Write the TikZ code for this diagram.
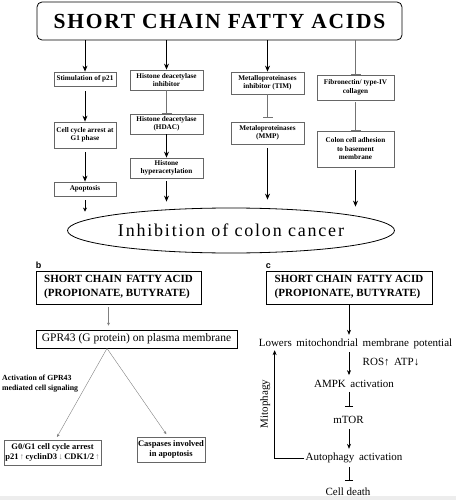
\documentclass[tikz,border=0pt]{standalone}
\usepackage{fontspec}
\setmainfont{Liberation Serif}
\setsansfont{Liberation Sans}
\usetikzlibrary{arrows.meta,shapes.geometric,positioning,calc}

\begin{document}
\begin{tikzpicture}[x=1pt,y=-1pt,
		cbox/.style={draw=black!60,thick,rectangle,inner sep=1pt,align=center,font=\fontsize{7.2}{8.5}\selectfont\bfseries},
		scabox/.style={draw,thick,rectangle,inner sep=2pt,align=left,minimum height=33pt,font=\fontsize{11}{14}\selectfont\bfseries},
		arr/.style={-{Stealth[length=6pt,width=5pt]},thick},
		inh/.style={-{Bar[width=10pt]},draw=black!55,thick},
		garr/.style={-{Stealth[length=3pt,width=3pt]},draw=black!50},
		carr/.style={-{Stealth[length=5pt,width=4pt]},semithick},
		cinh/.style={-{Bar[width=8pt]},semithick},
		ctext/.style={inner sep=1pt,font=\fontsize{11}{12}\selectfont}]
	\useasboundingbox (0,0) rectangle (456,500);
	\fill[black!7] (0,496) rectangle (456,500);
	
	% Panel a
	\node[draw,thick,rounded corners=5pt,minimum width=365pt,minimum height=38pt,
	font=\fontsize{21.5}{24}\selectfont\bfseries\addfontfeatures{LetterSpace=8}] (title) at (219.5,21) {SHORT CHAIN FATTY ACIDS};
	
	\node[cbox,minimum width=62pt,minimum height=14pt] (stim) at (85,79) {Stimulation of p21};
	\node[cbox,minimum width=62pt,minimum height=26pt] (arrest) at (85,135) {Cell cycle arrest at\\G1 phase};
	\node[cbox,minimum width=62pt,minimum height=14pt] (apop) at (85,189) {Apoptosis};
	
	\node[cbox,minimum width=73pt,minimum height=20pt] (hdi) at (166.5,80) {Histone deacetylase\\inhibitor};
	\node[cbox,minimum width=73pt,minimum height=20pt] (hdac) at (166.5,124) {Histone deacetylase\\(HDAC)};
	\node[cbox,minimum width=73pt,minimum height=20pt] (hyper) at (166.5,168) {Histone\\hyperacetylation};
	
	\node[cbox,minimum width=73pt,minimum height=22pt] (timi) at (267.5,83) {Metalloproteinases\\inhibitor (TIM)};
	\node[cbox,minimum width=73pt,minimum height=22pt] (mmp) at (267.5,133) {Metaloproteinases\\(MMP)};
	
	\node[cbox,minimum width=77pt,minimum height=25pt] (fibro) at (355.5,87.5) {Fibronectin/ type-IV\\collagen};
	\node[cbox,minimum width=77pt,minimum height=36pt] (adhes) at (355.5,149) {Colon cell adhesion\\to basement\\membrane};
	
	\node[draw,thick,ellipse,minimum width=327pt,minimum height=45pt,inner sep=0pt,
	font=\fontsize{18}{20}\selectfont\addfontfeatures{LetterSpace=10}] (cancer) at (231,230.5) {Inhibition of colon cancer};
	
	\draw[arr] (title.south -| stim) -- (stim);
	\draw[arr] (title.south -| hdi) -- (hdi);
	\draw[arr] (title.south -| timi) -- (timi);
	\draw[inh] (title.south -| fibro) -- (fibro);
	
	\draw[arr,shorten <=5pt] (stim) -- (arrest);
	\draw[arr,shorten <=4pt] (arrest) -- (apop);
	\draw[-{Stealth[length=4pt,width=4pt]},semithick,shorten <=4pt,shorten >=-4pt] (apop) -- (apop |- cancer.north);
	
	\draw[inh] (hdi) -- (hdac);
	\draw[arr] (hdac) -- (hyper);
	\draw[arr,shorten <=3pt,shorten >=6pt] (hyper) -- (hyper |- cancer.north);
	
	\draw[inh,shorten >=4pt] (timi) -- (mmp);
	\draw[arr,shorten <=4pt,shorten >=8pt] (mmp) -- (mmp |- cancer.north);
	
	\draw[inh,shorten <=2pt] (fibro) -- (adhes);
	\draw[arr,semithick,shorten <=3pt,shorten >=1pt] (adhes) -- (adhes |- cancer.north);
	
	% Panel b
	\node[scabox,minimum width=165pt] (bsca) at (118.5,287.5) {SHORT CHAIN\, FATTY ACID\\(PROPIONATE, BUTYRATE)};
	\node[font=\sffamily\bfseries\fontsize{9}{10}\selectfont,anchor=south west,inner sep=0pt] (blab) at ([yshift=1.5pt]bsca.north west) {b};
	\node[draw,thick,rectangle,minimum width=201pt,minimum height=18pt,inner sep=1pt,
	font=\fontsize{11.5}{13}\selectfont] (gpr) at (136.5,339) {GPR43 (G protein) on plasma membrane};
	\node[cbox,font=\fontsize{8.5}{10}\selectfont\bfseries,minimum width=97pt,minimum height=25pt] (gzero) at (52.5,452.5) {G0/G1 cell cycle arrest\\p21\,{\color{black!50}↑}\,cyclinD3\,{\color{black!50}↓}\,CDK1/2\,{\color{black!50}↑}};
	\node[cbox,font=\fontsize{8.5}{10}\selectfont\bfseries,minimum width=68pt,minimum height=25pt] (casp) at (171,449.5) {Caspases involved\\in apoptosis};
	\node[anchor=north west,align=left,inner sep=1pt,font=\fontsize{7.8}{10}\selectfont\bfseries] (actlab) at (1,374) {Activation of GPR43\\mediated cell signaling};
	
	\draw[garr,shorten <=3pt,shorten >=4pt] ([xshift=-10pt]bsca.south) -- ([xshift=-10pt]bsca.south |- gpr.north);
	\draw[garr,shorten >=3pt] ([xshift=-29.5pt]gpr.south) -- ([xshift=3pt]gzero.north);
	\draw[garr,shorten >=3pt] ([xshift=-29.5pt]gpr.south) -- ([xshift=-3pt]casp.north);
	
	% Panel c
	\node[scabox,minimum width=166pt] (csca) at (349,287.5) {SHORT CHAIN\, FATTY ACID\\(PROPIONATE, BUTYRATE)};
	\node[font=\sffamily\bfseries\fontsize{9}{10}\selectfont,anchor=south west,inner sep=0pt] (clab) at ([yshift=1.5pt]csca.north west) {c};
	
	\node[ctext] (lowers) at (355.5,344) {Lowers\, mitochondrial\, membrane\, potential};
	\node[ctext] (ros) at (391,362) {ROS↑\, ATP↓};
	\node[ctext] (ampk) at (354,384) {AMPK\, activation};
	\node[ctext] (mtor) at (348.5,420) {mTOR};
	\node[ctext] (autoph) at (354,458) {Autophagy\, activation};
	\node[ctext] (death) at (348,492) {Cell death};
	
	\draw[carr,shorten >=3pt] (csca.south) -- (csca.south |- lowers.north);
	\draw[carr,shorten <=2pt,shorten >=4pt] (lowers.south -| csca.south) -- (ampk.north -| csca.south);
	\draw[cinh,shorten <=3pt,shorten >=9pt] (ampk.south -| csca.south) -- (mtor.north -| csca.south);
	\draw[carr,shorten <=4pt,shorten >=3pt] (mtor.south -| csca.south) -- (autoph.north -| csca.south);
	\draw[cinh,shorten <=3pt,shorten >=6pt] (autoph.south -| csca.south) -- (death.north -| csca.south);
	\draw[carr] (autoph.west) -| ([xshift=17pt]lowers.south west)
	node[pos=0.75,rotate=90,above,inner sep=4pt,font=\fontsize{11}{12}\selectfont] {Mitophagy};
\end{tikzpicture}
\end{document}
